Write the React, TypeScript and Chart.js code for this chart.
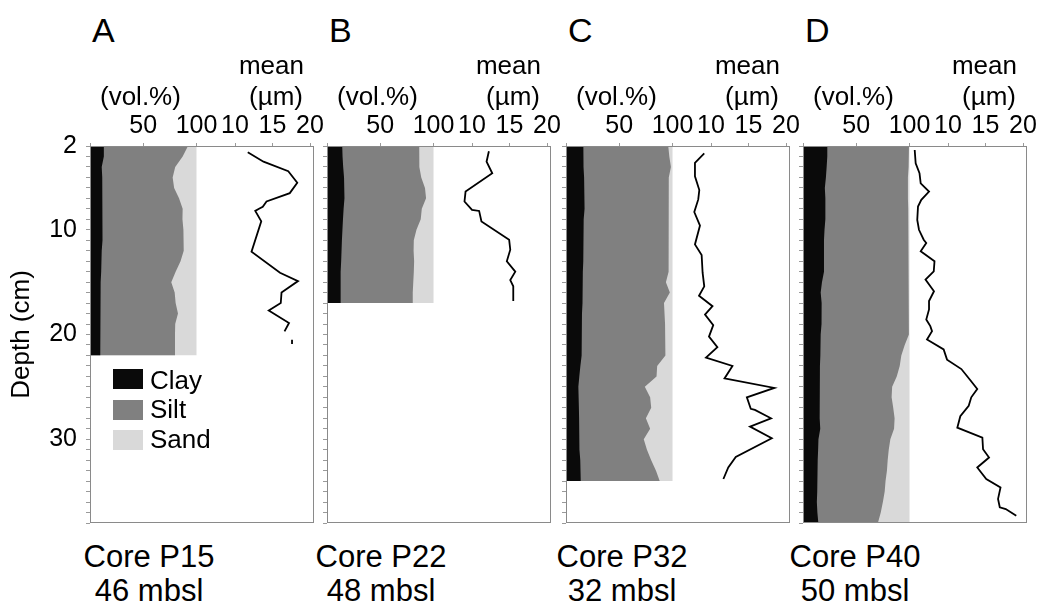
import React, { useEffect, useRef } from 'react';
import { Chart, registerables } from 'chart.js';

Chart.register(...registerables);

const FONT = '"Liberation Sans", Arial, Helvetica, sans-serif';
const CLAY_COLOR = '#0a0a0a';
const SILT_COLOR = '#808080';
const SAND_COLOR = '#d9d9d9';
const FRAME_COLOR = '#8a8a8a';
const TICK_COLOR = '#9a9a9a';

// ---- axis ticks ----
const VOL_TICKS = [0, 50, 100];
const MEAN_TICKS = [10, 15, 20];
const DEPTH_LABELS = [2, 10, 20, 30];
const DEPTH_MIN = 2;
const DEPTH_MAX = 38;
const VOL_MAX = 210.3;
const MEAN_MIN = -9.33;
const MEAN_MAX = 20.53;

// ---- Core P15 (A) ----
const depthA = [2, 3, 4, 5, 6, 7, 8, 9, 10, 11, 12, 13, 14, 15, 16, 17, 18, 19, 20, 21, 22];
const clayA = [13, 13, 11, 11.5, 12, 12, 12, 11.5, 11.5, 11.5, 11, 10.5, 10.5, 10, 10, 10, 9.5, 9.5, 9.5, 9.5, 9.5];
const siltA = [79, 74, 69, 66.1, 67, 71.6, 75, 75.3, 76.2, 76.5, 77, 74.5, 69.9, 66.3, 69.5, 70.4, 73.1, 70.5, 70.3, 70.3, 70.3];
const sandA = [8, 13, 20, 22.4, 21, 16.4, 13, 13.2, 12.3, 12, 12, 15, 19.6, 23.7, 20.5, 19.6, 17.4, 20, 20.2, 20.2, 20.2];
const meanDepthA = [2.6, 3.5, 4.4, 5.5, 6.5, 7.3, 7.8, 8.0, 8.2, 9.2, 12.1, 14.1, 14.9, 16.0, 17.0, 17.7, 18.9, 19.7, 20.1, 20.5, 20.9];
const meanA = [11.7, 13.8, 17.1, 18.3, 17.3, 14.2, 13.7, 13.2, 12.7, 13.5, 12.2, 16.0, 18.4, 16.2, 16.1, 14.5, 17.2, 16.6, null, 17.6, 17.6];

// ---- Core P22 (B) ----
const depthB = [2, 3, 4, 5, 6, 7, 8, 9, 10, 11, 12, 13, 14, 15, 16, 17];
const clayB = [14.3, 14.6, 15.2, 16, 16.5, 16.3, 15.6, 15, 14.5, 14, 13.4, 13.2, 12.8, 12.8, 12.8, 12.8];
const siltB = [72.3, 72, 71.6, 72.5, 75.5, 76.7, 73.4, 73, 69.5, 67.5, 67.9, 68.6, 68.7, 68.2, 67.7, 67.7];
const sandB = [13.4, 13.4, 13.2, 11.5, 8, 7, 11, 12, 16, 18.5, 18.7, 18.2, 18.5, 19, 19.5, 19.5];
const meanDepthB = [2.5, 3.5, 4.6, 6.35, 7.3, 8.1, 8.2, 9.2, 10.95, 11.9, 13.0, 14.0, 14.8, 15.4, 16.8];
const meanB = [12.25, 11.94, 12.7, 9.14, 9.0, 10.0, 10.95, 11.26, 14.95, 15.1, 14.64, 15.77, 15.1, 15.5, 15.5];

// ---- Core P32 (C) ----
const depthC = [2, 3, 4, 5, 6, 7, 8, 9, 10, 11, 12, 13, 14, 15, 16, 17, 18, 19, 20, 21, 22, 23, 24, 25, 26, 27, 28, 29, 30, 31, 32, 33, 34];
const clayC = [16.3, 16.3, 16.6, 17, 17.5, 17.8, 17, 16.6, 16.3, 16.3, 16.3, 16, 15.8, 15.6, 15.6, 15.3, 15, 15, 14.8, 14.6, 14.3, 13.5, 12.5, 11.6, 12, 12.2, 12.3, 12.4, 12.5, 13, 13.4, 13.7, 14];
const siltC = [79.7, 80.7, 81.9, 79.5, 79, 78.7, 79.5, 79.9, 80.2, 80.2, 79.7, 80, 80.2, 78.2, 81.9, 76.7, 77.5, 78, 78.7, 78.9, 78.7, 72.1, 72.5, 62.4, 67, 67.8, 62.7, 66.6, 60.5, 63, 66.6, 70.8, 74];
const sandC = [4, 3, 1.5, 3.5, 3.5, 3.5, 3.5, 3.5, 3.5, 3.5, 4, 4, 4, 6.2, 2.5, 8, 7.5, 7, 6.5, 6.5, 7, 14.4, 15, 26, 21, 20, 25, 21, 27, 24, 20, 15.5, 12];
const meanDepthC = [2.7, 3.6, 4.9, 6.2, 7.1, 8.3, 9.6, 11.4, 12.4, 14.1, 15.4, 16.3, 17.3, 18.1, 19.1, 20.2, 21.2, 22.2, 23.0, 24.2, 25.1, 26.0, 27.1, 27.2, 28.0, 28.8, 29.9, 31.7, 32.7, 33.8];
const meanC = [9.1, 7.86, 7.86, 8.44, 8.3, 7.77, 8.53, 7.86, 8.75, 8.88, 9.1, 8.4, 10.2, 9.2, 10.3, 9.73, 10.85, 9.33, 12.86, 11.8, 18.44, 14.78, 15.3, 15.85, 18.0, 15.2, 18.1, 13.3, 12.3, 11.65];

// ---- Core P40 (D) ----
const depthD = [2, 3, 4, 5, 6, 7, 8, 9, 10, 11, 12, 13, 14, 15, 16, 17, 18, 19, 20, 21, 22, 23, 24, 25, 26, 27, 28, 29, 30, 31, 32, 33, 34, 35, 36, 37, 38];
const clayD = [22.8, 22.8, 22.2, 21.5, 20.5, 21, 21.2, 20.8, 20.2, 19.7, 19.7, 19.7, 19.7, 17.8, 16.6, 17.5, 17.8, 17, 16.6, 16.4, 16.2, 15.9, 15.6, 15.6, 15.6, 15.6, 15.8, 16.2, 14.5, 14.2, 13.8, 13.5, 13.4, 13.2, 13, 13.5, 14.4];
const siltD = [76.7, 76.7, 76.6, 77, 78, 77.5, 77.6, 78.2, 79.3, 79.8, 79.8, 79.8, 79.8, 81.7, 82.9, 82, 81.7, 82.5, 82.4, 79.1, 76.1, 74.9, 72.4, 68.1, 67.6, 69.1, 70.2, 69.3, 67.5, 66.3, 65.7, 65.3, 64.1, 63.5, 62, 59.5, 55.9];
const sandD = [0.5, 0.5, 1.2, 1.5, 1.5, 1.5, 1.2, 1, 0.5, 0.5, 0.5, 0.5, 0.5, 0.5, 0.5, 0.5, 0.5, 0.5, 1, 4.5, 7.7, 9.2, 12, 16.3, 16.8, 15.3, 14, 14.5, 18, 19.5, 20.5, 21.2, 22.5, 23.3, 25, 27, 29.7];
const meanDepthD = [2.38, 3.65, 4.6, 5.56, 6.35, 7.14, 7.78, 9.05, 10.0, 10.95, 11.27, 12.06, 13.0, 13.97, 14.76, 15.87, 16.8, 17.6, 18.57, 19.2, 19.68, 20.48, 21.43, 22.4, 23.3, 24.3, 25.2, 26.0, 26.8, 27.8, 28.9, 29.84, 30.95, 31.75, 32.7, 33.8, 34.6, 35.7, 36.5, 36.67, 37.3];
const meanD = [5.56, 5.69, 6.2, 6.36, 7.47, 6.44, 6.0, 5.9, 6.13, 6.76, 7.1, 6.36, 8.2, 8.1, 7.0, 8.13, 7.47, 7.47, 7.1, 7.64, 7.87, 7.2, 9.42, 9.87, 11.78, 12.9, 13.9, 13.1, 12.76, 11.64, 11.24, 14.58, 14.67, 15.47, 13.9, 15.1, 17.0, 16.67, 16.9, 17.7, 19.1];

const LETTERS = ['A', 'B', 'C', 'D'];
const CORES = ['Core P15', 'Core P22', 'Core P32', 'Core P40'];
const DEPTHS_MBSL = ['46 mbsl', '48 mbsl', '32 mbsl', '50 mbsl'];
const LEGEND_LABELS = ['Clay', 'Silt', 'Sand'];

// layout (page pixels)
const PANEL_LEFTS = [90, 327, 566, 803];
const PANEL_W = 224;
const PLOT_TOP = 146;
const TOP_AXIS_H = 46;
const PLOT_H = 377;
const PAD_RIGHT = 16;
const CORE_CENTERS = [149, 381, 622, 855];

type PanelDef = {
  depth: number[];
  clay: number[];
  silt: number[];
  sand: number[];
  meanDepth: number[];
  mean: (number | null)[];
};

const PANELS: PanelDef[] = [
  { depth: depthA, clay: clayA, silt: siltA, sand: sandA, meanDepth: meanDepthA, mean: meanA },
  { depth: depthB, clay: clayB, silt: siltB, sand: sandB, meanDepth: meanDepthB, mean: meanB },
  { depth: depthC, clay: clayC, silt: siltC, sand: sandC, meanDepth: meanDepthC, mean: meanC },
  { depth: depthD, clay: clayD, silt: siltD, sand: sandD, meanDepth: meanDepthD, mean: meanD },
];

const framePlugin = {
  id: 'frame',
  afterDatasetsDraw(chart: any) {
    const { ctx, chartArea: a } = chart;
    ctx.save();
    ctx.strokeStyle = FRAME_COLOR;
    ctx.lineWidth = 1;
    ctx.strokeRect(a.left + 0.5, a.top + 0.5, a.right - a.left - 1, a.bottom - a.top - 1);
    ctx.restore();
  },
};

function depthTicks() {
  const t: { value: number }[] = [];
  for (let v = DEPTH_MIN; v <= DEPTH_MAX; v++) t.push({ value: v });
  return t;
}

function PanelChart({ idx }: { idx: number }) {
  const ref = useRef<HTMLCanvasElement | null>(null);
  const showY = idx === 0;
  const yW = showY ? 90 : 14;
  const left = PANEL_LEFTS[idx] - yW;
  const width = yW + PANEL_W + PAD_RIGHT;
  const height = TOP_AXIS_H + PLOT_H + 2;

  useEffect(() => {
    const p = PANELS[idx];
    const tickFont = { family: FONT, size: 25 };
    const area = (label: string, values: number[], color: string) => ({
      label,
      data: p.depth.map((d, i) => ({ x: values[i], y: d })),
      xAxisID: 'x',
      yAxisID: 'y',
      backgroundColor: color,
      borderColor: color,
      borderWidth: 0,
      pointRadius: 0,
      tension: 0,
      fill: 'origin',
    });
    // both top axes share the same line: zero-height boxes, labels mirrored
    // (unclipped) and lifted above the plot with a negative padding
    const topAxis = (min: number, max: number, ticks: number[], hideZero: boolean, stacked: boolean) => ({
      type: 'linear',
      position: 'top',
      min,
      max,
      stacked,
      afterBuildTicks: (s: any) => {
        s.ticks = ticks.map((v) => ({ value: v }));
      },
      afterFit: (s: any) => {
        s.height = 0;
        s.paddingLeft = 0;
        s.paddingRight = 0;
      },
      ticks: {
        autoSkip: false,
        maxRotation: 0,
        minRotation: 0,
        mirror: true,
        padding: -35,
        color: '#000',
        font: tickFont,
        callback: (v: any) => (hideZero && v === 0 ? '' : String(v)),
      },
      grid: { drawOnChartArea: false, drawTicks: true, tickLength: 3, color: TICK_COLOR },
      border: { display: false },
    });
    const chart = new Chart(ref.current as HTMLCanvasElement, {
      type: 'line',
      data: {
        datasets: [
          {
            label: 'mean',
            data: p.meanDepth.map((d, i) => ({ x: p.mean[i], y: d })),
            xAxisID: 'x2',
            yAxisID: 'y',
            borderColor: '#000',
            borderWidth: 1.8,
            pointRadius: 0,
            tension: 0,
            fill: false,
            spanGaps: false,
          } as any,
          area('Clay', p.clay, CLAY_COLOR),
          area('Silt', p.silt, SILT_COLOR),
          area('Sand', p.sand, SAND_COLOR),
        ],
      },
      options: {
        indexAxis: 'y',
        animation: false,
        responsive: false,
        devicePixelRatio: 1,
        layout: { padding: { left: 0, top: TOP_AXIS_H, right: PAD_RIGHT, bottom: 2 } },
        plugins: { legend: { display: false }, tooltip: { enabled: false } },
        scales: {
          x: topAxis(0, VOL_MAX, VOL_TICKS, true, true),
          x2: topAxis(MEAN_MIN, MEAN_MAX, MEAN_TICKS, false, false),
          y: {
            type: 'linear',
            position: 'left',
            reverse: true,
            min: DEPTH_MIN,
            max: DEPTH_MAX,
            afterBuildTicks: (s: any) => {
              s.ticks = depthTicks();
            },
            afterFit: (s: any) => {
              s.width = yW;
              s.paddingTop = 0;
              s.paddingBottom = 0;
            },
            ticks: {
              autoSkip: false,
              padding: 9,
              color: '#000',
              font: tickFont,
              callback: (v: any) => (showY && DEPTH_LABELS.includes(v) ? String(v) : ''),
            },
            grid: { drawOnChartArea: false, drawTicks: true, tickLength: 4, color: TICK_COLOR },
            border: { display: false },
            title: {
              display: showY,
              text: 'Depth (cm)',
              color: '#000',
              font: { family: FONT, size: 26 },
              padding: { top: 6, bottom: 0 },
            },
          },
        },
      } as any,
      plugins: [framePlugin],
    });
    return () => chart.destroy();
  }, [idx]);

  return (
    <canvas
      ref={ref}
      width={width}
      height={height}
      style={{ position: 'absolute', left, top: PLOT_TOP - TOP_AXIS_H, width, height }}
    />
  );
}

const txt = (fontSize: number): React.CSSProperties => ({
  position: 'absolute',
  fontFamily: FONT,
  fontSize,
  lineHeight: 1,
  color: '#000',
  whiteSpace: 'nowrap',
  margin: 0,
});

const asc = (fs: number) => fs * 0.8465;

export default function App() {
  const legendColors = [CLAY_COLOR, SILT_COLOR, SAND_COLOR];
  const legendTops = [369, 399.5, 429.5];
  const legendBaselines = [389, 418, 448];
  return (
    <div
      style={{
        position: 'fixed',
        left: 0,
        top: 0,
        width: 1037,
        height: 604,
        background: '#fff',
        overflow: 'hidden',
      }}
    >
      {PANELS.map((_, i) => (
        <PanelChart key={i} idx={i} />
      ))}
      {PANEL_LEFTS.map((L, i) => (
        <React.Fragment key={'t' + i}>
          <div style={{ ...txt(34), left: L + 2, top: 42 - asc(34) }}>{LETTERS[i]}</div>
          <div style={{ ...txt(26), left: L + 10, top: 105 - asc(26) }}>(vol.%)</div>
          <div style={{ ...txt(26), right: 1037 - (L + 214), top: 74 - asc(26), textAlign: 'right' }}>mean</div>
          <div style={{ ...txt(26), right: 1037 - (L + 213), top: 105 - asc(26), textAlign: 'right' }}>(µm)</div>
          <div style={{ ...txt(31), left: CORE_CENTERS[i] - 100, width: 200, textAlign: 'center', top: 567 - asc(31) }}>
            {CORES[i]}
          </div>
          <div style={{ ...txt(31), left: CORE_CENTERS[i] - 100, width: 200, textAlign: 'center', top: 601 - asc(31) }}>
            {DEPTHS_MBSL[i]}
          </div>
        </React.Fragment>
      ))}
      {LEGEND_LABELS.map((lab, i) => (
        <React.Fragment key={'l' + i}>
          <div
            style={{
              position: 'absolute',
              left: 113,
              top: legendTops[i],
              width: 30,
              height: 20,
              background: legendColors[i],
            }}
          />
          <div style={{ ...txt(26), left: 150, top: legendBaselines[i] - asc(26) }}>{lab}</div>
        </React.Fragment>
      ))}
    </div>
  );
}
